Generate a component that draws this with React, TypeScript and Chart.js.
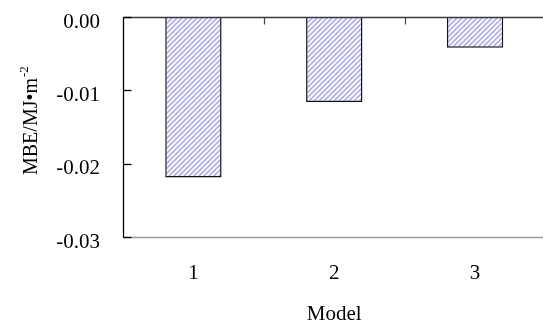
import React, { useEffect, useRef } from "react";
import { Chart, registerables } from "chart.js";

Chart.register(...registerables);

const categories = ["1", "2", "3"];
const mbeValues = [-0.0219, -0.0116, -0.0042];
const yMin = -0.03;
const yMax = 0;
const yStep = 0.01;
const xTitle = "Model";
const yTitleMain = "MBE/MJ•m";
const yTitleSup = "-2";

function makeHatch(): CanvasPattern | string {
  const n = 5;
  const c = document.createElement("canvas");
  c.width = n;
  c.height = n;
  const g = c.getContext("2d");
  if (!g) return "#d0d0fc";
  g.fillStyle = "#ffffff";
  g.fillRect(0, 0, n, n);
  g.strokeStyle = "rgb(172,172,252)";
  g.lineWidth = 1.6;
  g.beginPath();
  g.moveTo(0, n);
  g.lineTo(n, 0);
  g.moveTo(-1, 1);
  g.lineTo(1, -1);
  g.moveTo(n - 1, n + 1);
  g.lineTo(n + 1, n - 1);
  g.stroke();
  return g.createPattern(c, "repeat") || "#d0d0fc";
}

const frame = {
  id: "frame",
  beforeDatasetsDraw(chart: any) {
    const { ctx, chartArea: a, scales } = chart;
    const y = scales.y;
    ctx.save();
    const by = Math.round(y.getPixelForValue(yMin)) + 0.5;
    ctx.strokeStyle = "#999";
    ctx.lineWidth = 1.5;
    ctx.beginPath();
    ctx.moveTo(a.left, by);
    ctx.lineTo(a.right + 10, by);
    ctx.stroke();
    ctx.restore();
  },
  afterDraw(chart: any) {
    const { ctx, chartArea: a, scales } = chart;
    const x = scales.x;
    const y = scales.y;
    ctx.save();
    const lx = Math.round(a.left) + 0.5;
    const zy = Math.round(y.getPixelForValue(0)) + 0.5;
    const by = Math.round(y.getPixelForValue(yMin)) + 0.5;
    // zero line at top
    ctx.strokeStyle = "#3a3a3a";
    ctx.lineWidth = 1.4;
    ctx.beginPath();
    ctx.moveTo(lx, zy);
    ctx.lineTo(a.right + 10, zy);
    ctx.stroke();
    // left axis
    ctx.strokeStyle = "#000";
    ctx.lineWidth = 1.3;
    ctx.beginPath();
    ctx.moveTo(lx, zy);
    ctx.lineTo(lx, by);
    ctx.stroke();
    // inward y ticks
    y.ticks.forEach((t: any) => {
      const py = Math.round(y.getPixelForValue(t.value)) + 0.5;
      ctx.beginPath();
      ctx.moveTo(lx, py);
      ctx.lineTo(lx + 8, py);
      ctx.stroke();
    });
    // x ticks at category boundaries on zero line
    ctx.strokeStyle = "#444";
    ctx.lineWidth = 1.2;
    for (let i = 1; i < categories.length; i++) {
      const px = Math.round(x.getPixelForValue(i - 0.5)) + 0.5;
      ctx.beginPath();
      ctx.moveTo(px, zy);
      ctx.lineTo(px, zy + 7);
      ctx.stroke();
    }
    // x title
    ctx.fillStyle = "#000";
    ctx.font = "21px 'Liberation Serif', 'Times New Roman', serif";
    ctx.textAlign = "center";
    ctx.textBaseline = "alphabetic";
    ctx.fillText(xTitle, (a.left + a.right) / 2, a.bottom + 83);
    // y title with superscript
    ctx.translate(37, 175);
    ctx.rotate(-Math.PI / 2);
    ctx.textAlign = "left";
    ctx.font = "20px 'Liberation Serif', 'Times New Roman', serif";
    ctx.fillText(yTitleMain, 0, 0);
    const w = ctx.measureText(yTitleMain).width;
    ctx.font = "13px 'Liberation Serif', 'Times New Roman', serif";
    ctx.fillText(yTitleSup, w + 1, -9);
    ctx.restore();
  },
};

function zeroPad(s: any) {
  s.paddingTop = 0;
  s.paddingBottom = 0;
  s.paddingLeft = 0;
  s.paddingRight = 0;
}

export default function App() {
  const ref = useRef<HTMLCanvasElement | null>(null);
  useEffect(() => {
    if (!ref.current) return;
    const hatch = makeHatch();
    const font = { family: "'Liberation Serif', 'Times New Roman', serif", size: 21 };
    const chart = new Chart(ref.current, {
      type: "bar",
      data: {
        labels: categories,
        datasets: [
          {
            data: mbeValues,
            backgroundColor: hatch as any,
            borderColor: "#111",
            borderWidth: 1.5,
            borderSkipped: "start",
            barPercentage: 0.4,
            categoryPercentage: 1,
          },
        ],
      },
      options: {
        responsive: false,
        animation: false,
        devicePixelRatio: 1,
        layout: { padding: { left: 0, top: 17, right: 7.5, bottom: 0 } },
        plugins: { legend: { display: false }, tooltip: { enabled: false } },
        scales: {
          x: {
            grid: { display: false, drawTicks: false },
            border: { display: false },
            ticks: { font, color: "#000", padding: 23.5, maxRotation: 0 },
            afterFit: (s: any) => {
              s.height = 88;
              zeroPad(s);
            },
          },
          y: {
            min: yMin,
            max: yMax,
            border: { display: false },
            grid: { display: false, drawTicks: false },
            ticks: {
              stepSize: yStep,
              font,
              color: "#000",
              padding: 23,
              labelOffset: 5,
              callback: (v: any) => Number(v).toFixed(2),
            },
            afterFit: (s: any) => {
              s.width = 123;
              zeroPad(s);
            },
          },
        },
      },
      plugins: [frame],
    });
    return () => chart.destroy();
  }, []);
  return (
    <div
      style={{
        position: "fixed",
        left: 0,
        top: 0,
        width: 543,
        height: 325,
        overflow: "hidden",
        background: "#fff",
      }}
    >
      <canvas ref={ref} width={553} height={325} style={{ display: "block" }} />
    </div>
  );
}
